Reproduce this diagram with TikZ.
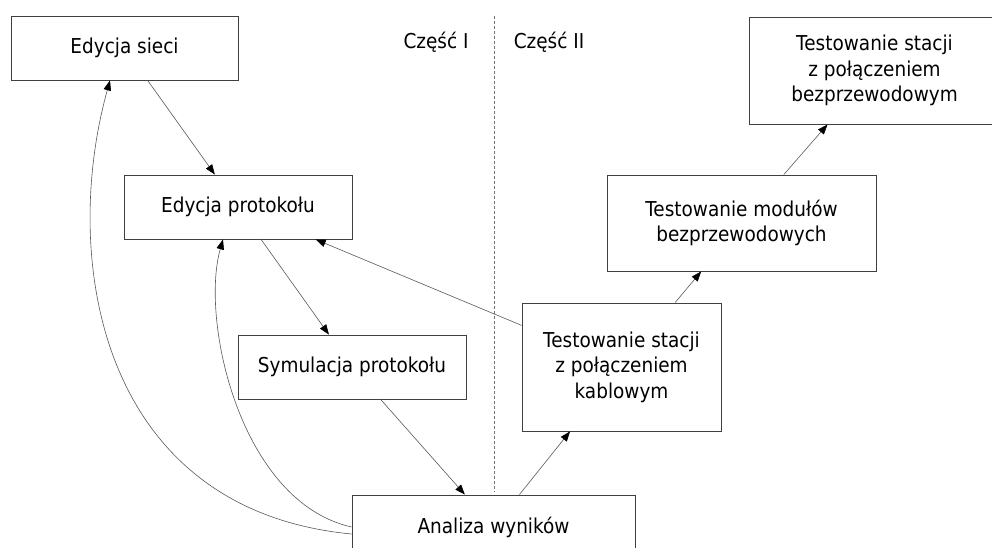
\documentclass[tikz,border=0pt]{standalone}
\usepackage{fontspec}
\setmainfont{DejaVu Sans}[FakeStretch=0.9]
\usetikzlibrary{arrows.meta}
\tikzset{
  box/.style={draw=black!75, line width=0.9pt, fill=white, inner sep=0pt, align=center,
              font=\fontsize{20.5}{25.5}\selectfont},
  conn/.style={draw=black!65, line width=0.6pt, -{Triangle[length=10pt,width=7.5pt,color=black]}},
  part/.style={font=\fontsize{20.5}{25.5}\selectfont, inner sep=0pt},
  divider/.style={draw=black!55, line width=0.6pt, dash pattern=on 3pt off 2pt}
}
\begin{document}
\begin{tikzpicture}[x=1pt,y=-1pt]
\useasboundingbox (0,0) rectangle (992,548);
\clip (0,0) rectangle (992,548);
\fill[white] (0,0) rectangle (992,548);

\coordinate (dtop) at (494,16);
\coordinate (dbot) at (494,492);
\draw[divider] (dtop) -- (dbot);

\node[part] (c1) at (436,42) {Część I};
\node[part] (c2) at (549,42) {Część II};

\node[box, minimum width=227pt, minimum height=64pt] (sieci) at (124.5,48) {Edycja sieci};
\node[box, minimum width=228pt, minimum height=64pt] (protokol) at (238,207) {Edycja protokołu};
\node[box, minimum width=228pt, minimum height=64pt] (symulacja) at (352,367) {Symulacja protokołu};
\node[box, minimum width=283pt, minimum height=64pt] (analiza) at (493.5,527) {Analiza wyników};
\node[box, minimum width=199pt, minimum height=128pt] (kablowe) at (621.5,367) {Testowanie stacji\\z połączeniem\\kablowym};
\node[box, minimum width=269pt, minimum height=96pt] (moduly) at (741.5,223) {Testowanie modułów\\bezprzewodowych};
\node[box, minimum width=251pt, minimum height=107pt] (bezprz) at (874.5,70.5) {Testowanie stacji\\z połączeniem\\bezprzewodowym};

\draw[conn] (sieci) -- (protokol);
\draw[conn] (protokol) -- (symulacja);
\draw[conn] (symulacja) -- (analiza);
\draw[conn] (analiza) -- (kablowe);
\draw[conn] (kablowe) -- (moduly);
\draw[conn] (moduly) -- (bezprz);
\draw[conn] (kablowe) -- (protokol);

\draw[conn] ([yshift=-7pt]analiza.west) .. controls (100,510) and (60,260) .. ([xshift=-14.5pt]sieci.south);
\draw[conn] (analiza.west) .. controls (240,502) and (200,320) .. ([xshift=-15pt]protokol.south);
\end{tikzpicture}
\end{document}
